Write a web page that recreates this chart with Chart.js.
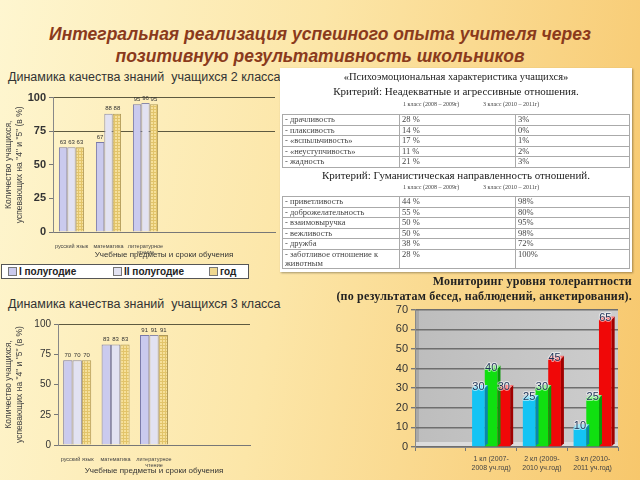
<!DOCTYPE html>
<html><head><meta charset="utf-8">
<script src="https://cdn.jsdelivr.net/npm/chart.js@4.4.0/dist/chart.umd.min.js"></script>
<style>
html,body{margin:0;padding:0;}
body{width:640px;height:480px;position:relative;overflow:hidden;
background:linear-gradient(100deg,#fef6d0 0%,#fce6a8 45%,#f7c76c 100%);
font-family:"Liberation Sans",Arial,sans-serif;}
.abs{position:absolute;}
#title{left:0;top:23px;width:640px;text-align:center;font:italic bold 17.5px "Liberation Sans",Arial,sans-serif;color:#8a3a1c;line-height:22px;}
.ctitle{font-size:12.5px;color:#333;white-space:pre;}
#legend1{left:1px;top:264px;width:246px;height:13px;background:#fff;border:1px solid #555;font:bold 10px "Liberation Sans",Arial,sans-serif;color:#222;}
#legend1 span.item{position:absolute;top:0;line-height:13px;white-space:nowrap;}
#legend1 i{display:inline-block;width:7px;height:7px;border:1px solid #777;margin-right:2px;vertical-align:-1px;}
#tbl{left:280px;top:68px;width:352px;height:204px;background:#fff;box-shadow:1px 1px 2px rgba(0,0,0,.35);font-family:"Liberation Serif","Times New Roman",serif;color:#333;}
#tbl .h1{position:absolute;left:0;width:352px;text-align:center;font-size:10.5px;color:#222;}
#tbl .h2{position:absolute;left:0;width:352px;text-align:center;font-size:11px;color:#222;}
#tbl .sub{position:absolute;font-size:6px;color:#444;}
#tbl table{position:absolute;left:2px;width:348px;border-collapse:collapse;font-size:8.5px;color:#444;}
#tbl td{border:1px solid #aaa;padding:0 2px;height:9.5px;line-height:9.5px;vertical-align:top;}
#tbl td:nth-child(1){width:112px;}
#tbl td:nth-child(2){width:111px;}
#mon{right:8px;top:274px;text-align:right;font:bold 12px "Liberation Serif","Times New Roman",serif;color:#222;line-height:15px;letter-spacing:0.2px;}
</style></head>
<body>
<div id="title" class="abs">Интегральная реализация успешного опыта учителя через<br>позитивную результативность школьников</div>
<div class="abs ctitle" style="left:8px;top:70px;">Динамика качества знаний  учащихся 2 класса</div>
<div class="abs" style="left:0;top:88px;"><canvas id="c1" width="280" height="176"></canvas></div>
<div id="legend1" class="abs"></div>
<div class="abs ctitle" style="left:8px;top:297px;">Динамика качества знаний  учащихся 3 класса</div>
<div class="abs" style="left:0;top:315px;"><canvas id="c2" width="280" height="165"></canvas></div>
<div id="tbl" class="abs"></div>
<div id="mon" class="abs">Мониторинг уровня толерантности<br>(по результатам бесед, наблюдений, анкетирования).</div>
<div class="abs" style="left:360px;top:300px;"><canvas id="c4" width="280" height="180"></canvas></div>
<script>
// ---------- DATA ----------
const subjects = [["русский язык"], ["математика"], ["литературное", "чтение"]];
const seriesNames = ["I полугодие", "II полугодие", "год"];
const class2Half1 = [63, 67, 95];
const class2Half2 = [63, 88, 96];
const class2Year  = [63, 88, 95];
const class3Half1 = [70, 83, 91];
const class3Half2 = [70, 83, 91];
const class3Year  = [70, 83, 91];
const qualityTicks = [0, 25, 50, 75, 100];

const tolCategories = ["", ["1 кл (2007-", "2008 уч.год)"], ["2 кл (2009-", "2010 уч.год)"], ["3 кл (2010-", "2011 уч.год)"]];
const tolBlue  = [null, 30, 25, 10];
const tolGreen = [null, 40, 30, 25];
const tolRed   = [null, 30, 45, 65];

const tableTitle = "«Психоэмоциональная характеристика учащихся»";
const crit1 = "Критерий: Неадекватные и агрессивные отношения.";
const crit2 = "Критерий: Гуманистическая направленность отношений.";
const periodHeads = ["1 класс (2008 – 2009г)", "3 класс (2010 – 2011г)"];
const traits1 = ["- драчливость", "- плаксивость", "- «вспыльчивость»", "- «неуступчивость»", "- жадность"];
const traits1Grade1 = ["28 %", "14 %", "17 %", "11 %", "21 %"];
const traits1Grade3 = ["3%", "0%", "1%", "2%", "3%"];
const traits2 = ["- приветливость", "- доброжелательность", "- взаимовыручка", "- вежливость", "- дружба", "- заботливое отношение к животным"];
const traits2Grade1 = ["44 %", "55 %", "50 %", "50 %", "38 %", "28 %"];
const traits2Grade3 = ["98%", "80%", "95%", "98%", "72%", "100%"];

// ---------- HELPERS ----------
function hatch(bg, line){
  const c=document.createElement('canvas'); c.width=3; c.height=3;
  const x=c.getContext('2d'); x.fillStyle=bg; x.fillRect(0,0,3,3);
  x.fillStyle=line; x.fillRect(0,0,3,1); x.fillRect(0,0,1,3);
  return x.createPattern(c,'repeat');
}
const padLabels=(arr,n)=>arr.concat(Array(n-arr.length).fill(""));
const c1Fill=["#cacaee","#e2e2f2",hatch("#f6e09a","#e2c46a")];
const c1Border=["#7a7aa8","#8a8aa8","#b09a5a"];

const valueLabels={id:'valueLabels',
  afterDatasetsDraw(chart,args,o){
    const ctx=chart.ctx; ctx.save();
    ctx.font=o.font; ctx.textAlign='center'; ctx.textBaseline=o.baseline||'bottom';
    chart.data.datasets.forEach((ds,i)=>{
      const meta=chart.getDatasetMeta(i);
      meta.data.forEach((bar,j)=>{
        const v=ds.data[j]; if(v==null) return;
        const y=bar.y+(o.dy||0);
        if(o.stroke){ctx.lineWidth=o.strokeWidth||2;ctx.strokeStyle=o.stroke;ctx.lineJoin='round';ctx.strokeText(String(v),bar.x,y);}
        ctx.fillStyle=o.color; ctx.fillText(String(v),bar.x,y);
      });
    });
    ctx.restore();
  }};

function qualityChart(id, vals, nSlots, yW, xH, padTop, padRight, gridMin, tickFont){
  return new Chart(document.getElementById(id),{
    type:'bar',
    data:{labels:padLabels(subjects,nSlots),
      datasets:vals.map((v,i)=>({label:seriesNames[i],data:v,backgroundColor:c1Fill[i],borderColor:c1Border[i],borderWidth:1,
        barPercentage:1,categoryPercentage:id==='c1'?0.68:0.73}))},
    options:{responsive:false,animation:false,
      layout:{padding:{top:padTop,right:padRight,left:0,bottom:0}},
      plugins:{legend:{display:false},tooltip:{enabled:false},
        valueLabels:{font:'6px "Liberation Sans"',color:'#333',dy:-2}},
      scales:{
        x:{grid:{display:false},border:{display:true,color:'#777'},
          ticks:{font:{size:5.5},color:'#444',padding:3,maxRotation:0,autoSkip:false},
          title:{display:true,text:'Учебные предметы и сроки обучения',font:{size:8},color:'#333',padding:{top:2}},
          afterFit(s){s.height=xH;}},
        y:{min:0,max:100,afterBuildTicks(s){s.ticks=qualityTicks.map(v=>({value:v}));},
          grid:{color:c=>(c.tick&&c.tick.value>=gridMin)?'#5e5a40':'rgba(0,0,0,0)',tickLength:4,tickColor:'#777'},
          border:{display:true,color:'#888'},
          ticks:{font:tickFont,color:'#333',padding:3},
          title:{display:true,text:['Количество учащихся,','успевающих на "4" и "5" (в %)'],font:{size:8.5},color:'#444',padding:{bottom:2}},
          afterFit(s){s.width=yW;}}
      }},
    plugins:[valueLabels]
  });
}
qualityChart('c1',[class2Half1,class2Half2,class2Year],6,53,32,8,5,75,{size:11,weight:'bold'});
qualityChart('c2',[class3Half1,class3Half2,class3Year],5,58,35,9,30,100,{size:10});

// legend
const leg=document.getElementById('legend1');
const legX=[6,111,207], legCol=['#cacaee','#e2e2f2','#f0d890'];
seriesNames.forEach((n,i)=>{const s=document.createElement('span');s.className='item';s.style.left=legX[i]+'px';
  s.innerHTML='<i style="background:'+legCol[i]+'"></i>'+n;leg.appendChild(s);});

// table
const tbl=document.getElementById('tbl');
function rowsHTML(names,a,b){return names.map((n,i)=>'<tr><td>'+n+'</td><td>'+a[i]+'</td><td>'+b[i]+'</td></tr>').join('');}
tbl.innerHTML=
 '<div class="h1" style="top:3px">'+tableTitle+'</div>'+
 '<div class="h2" style="top:17px">'+crit1+'</div>'+
 '<div class="sub" style="left:123px;top:33px">'+periodHeads[0]+'</div><div class="sub" style="left:203px;top:33px">'+periodHeads[1]+'</div>'+
 '<table style="top:46px">'+rowsHTML(traits1,traits1Grade1,traits1Grade3)+'</table>'+
 '<div class="h2" style="top:101px">'+crit2+'</div>'+
 '<div class="sub" style="left:123px;top:116px">'+periodHeads[0]+'</div><div class="sub" style="left:203px;top:116px">'+periodHeads[1]+'</div>'+
 '<table style="top:128px">'+rowsHTML(traits2,traits2Grade1,traits2Grade3)+'</table>';
const lastRowCell=tbl.querySelectorAll('table')[1].rows[5].cells[0]; lastRowCell.style.lineHeight='9px';

// tolerance chart
const bar3d={id:'bar3d',afterDatasetDraw(chart,args){
  const ds=chart.data.datasets[args.index]; const ctx=chart.ctx; const d=3;
  args.meta.data.forEach((bar,j)=>{
    if(ds.data[j]==null) return;
    const p=bar.getProps(['x','y','base','width'],true);
    const l=p.x-p.width/2, r=p.x+p.width/2;
    ctx.save();
    ctx.fillStyle=ds.sideColor; ctx.beginPath();
    ctx.moveTo(r,p.y);ctx.lineTo(r+d,p.y-d);ctx.lineTo(r+d,p.base-d);ctx.lineTo(r,p.base);ctx.closePath();ctx.fill();
    ctx.fillStyle=ds.topColor; ctx.beginPath();
    ctx.moveTo(l,p.y);ctx.lineTo(l+d,p.y-d);ctx.lineTo(r+d,p.y-d);ctx.lineTo(r,p.y);ctx.closePath();ctx.fill();
    ctx.restore();
  });
}};
const plotBg={id:'plotBg',beforeDraw(chart){
  const a=chart.chartArea, ctx=chart.ctx; ctx.save();
  const g=ctx.createLinearGradient(a.left,0,a.right,0); g.addColorStop(0,'#bdbdbd'); g.addColorStop(1,'#cdcdcd');
  ctx.fillStyle=g; ctx.fillRect(a.left,a.top,a.right-a.left,a.bottom-a.top);
  ctx.fillStyle='#a8a8a8'; ctx.fillRect(a.left,a.top,4,a.bottom-a.top);
  ctx.fillStyle='#dcdcdc'; ctx.fillRect(a.left,a.bottom-5,a.right-a.left,5);
  ctx.restore();
}};
new Chart(document.getElementById('c4'),{
  type:'bar',
  data:{labels:tolCategories,datasets:[
    {data:tolBlue,backgroundColor:'#14c4f4',sideColor:'#0a86aa',topColor:'#7fe0fa',barPercentage:1,categoryPercentage:0.75},
    {data:tolGreen,backgroundColor:'#10e010',sideColor:'#0a9a0a',topColor:'#80f080',barPercentage:1,categoryPercentage:0.75},
    {data:tolRed,backgroundColor:'#f00808',sideColor:'#a00000',topColor:'#ff7070',barPercentage:1,categoryPercentage:0.75}]},
  options:{responsive:false,animation:false,
    layout:{padding:{top:8,right:22,left:0,bottom:0}},
    plugins:{legend:{display:false},tooltip:{enabled:false},
      valueLabels:{font:'11px "Liberation Sans"',color:'#1f3358',baseline:'middle',dy:-1,stroke:'rgba(255,255,255,0.55)',strokeWidth:2}},
    scales:{
      x:{grid:{display:true,drawOnChartArea:false,offset:true,tickLength:4,color:'#777'},border:{display:true,color:'#888'},
        ticks:{font:{size:7},color:'#444',padding:4,maxRotation:0,autoSkip:false},
        afterFit(s){s.height=33;}},
      y:{min:0,max:70,ticks:{stepSize:10,font:{size:11},color:'#333',padding:3},
        grid:{color:'#6e6e6e',lineWidth:1.4,tickLength:4,tickColor:'#777'},border:{display:true,color:'#888'},
        afterFit(s){s.width=55;}}
    }},
  plugins:[plotBg,bar3d,valueLabels]
});
</script>
</body></html>
